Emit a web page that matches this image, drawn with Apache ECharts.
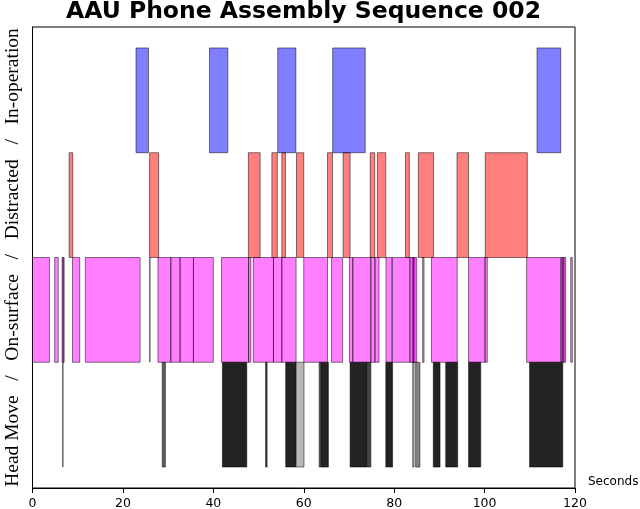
<!DOCTYPE html>
<html>
<head>
<meta charset="utf-8">
<script src="https://cdn.jsdelivr.net/npm/echarts@6/dist/echarts.min.js"></script>
<style>
  html, body { margin: 0; padding: 0; background: #fff; }
  #chart { width: 640px; height: 509px; }
</style>
</head>
<body>
<div id="chart"></div>
<script>
// intervals in seconds: [start, end]
var inOperation = [[22.9, 25.65], [39.15, 43.2], [54.25, 58.25], [66.4, 73.6], [111.6, 116.85]]
var distracted = [[8.1, 8.9], [25.9, 27.9], [47.75, 50.35], [52.95, 54.15], [55.15, 55.95], [58.4, 60.0],
  [65.25, 66.35], [68.7, 70.25], [74.7, 75.7], [76.3, 78.15], [82.5, 83.35], [85.35, 88.7],
  [93.9, 96.45], [100.15, 109.45]]
var onSurface = [[0, 3.75], [4.9, 5.7], [6.55, 6.8], [6.75, 7.0], [8.85, 10.45], [11.7, 23.8],
  [25.95, 25.97], [27.75, 30.6], [30.6, 32.65], [32.65, 35.6], [35.6, 40.0], [41.8, 47.8],
  [47.8, 48.3], [48.85, 53.3], [53.3, 55.15], [55.15, 58.3], [60.0, 65.25], [66.15, 68.6],
  [70.1, 70.85], [70.85, 74.85], [74.85, 75.75], [75.75, 76.65], [78.2, 79.5], [79.6, 83.5],
  [83.5, 84.3], [84.0, 84.6], [84.3, 85.0], [86.3, 86.6], [88.25, 93.95], [96.45, 100.1],
  [100.1, 100.6], [109.3, 116.9], [116.9, 117.3], [117.2, 117.6], [117.5, 117.95], [119.05, 119.4]]
// head moves: [start, end, how many overlap there]
var headMove = [[6.7, 6.74, 1], [28.7, 29.4, 3], [42.0, 47.4, 6], [51.55, 51.9, 4], [56.0, 58.25, 6],
  [58.25, 60.05, 1], [63.4, 63.85, 3], [63.85, 65.45, 6], [70.25, 73.9, 6], [73.9, 74.85, 4],
  [78.15, 79.65, 6], [84.1, 84.4, 1], [84.75, 85.7, 2], [88.65, 90.15, 6], [91.4, 94.05, 6],
  [96.45, 99.15, 6], [109.95, 117.3, 6]]
var xTicks = [0, 20, 40, 60, 80, 100, 120]
var rowNames = ['Head Move', 'On-surface', 'Distracted', 'In-operation']

function bars(row, fill) {
  return function (params, api) {
    var p0 = api.coord([api.value(0), row + 1])
    var p1 = api.coord([api.value(1), row])
    var f = fill
    if (typeof fill === 'function') f = fill(api.value(2))
    return {
      type: 'rect',
      shape: { x: p0[0], y: p0[1], width: Math.max(p1[0] - p0[0], 0), height: p1[1] - p0[1] },
      style: { fill: f, stroke: 'rgba(0,0,0,0.5)', lineWidth: 1 }
    }
  }
}

function series(data, row, fill) {
  return {
    type: 'custom',
    renderItem: bars(row, fill),
    data: data,
    encode: { x: [0, 1] },
    clip: true,
    silent: true
  }
}

var chart = echarts.init(document.getElementById('chart'), null, { renderer: 'canvas' })
chart.setOption({
  animation: false,
  backgroundColor: '#fff',
  title: {
    text: 'AAU Phone Assembly Sequence 002',
    left: 303.5,
    textAlign: 'center',
    top: 0,
    padding: 0,
    textStyle: { fontFamily: 'DejaVu Sans', fontWeight: 'bold', fontSize: 23.5, color: '#000' }
  },
  grid: {
    left: 32.5, right: 65, top: 27, bottom: 21,
    containLabel: false,
    outerBoundsMode: 'none',
    show: true, borderColor: '#000', borderWidth: 1, backgroundColor: 'transparent'
  },
  xAxis: {
    type: 'value',
    min: xTicks[0],
    max: xTicks[xTicks.length - 1],
    interval: 20,
    name: 'Seconds',
    nameLocation: 'end',
    nameGap: 13,
    nameTextStyle: { fontFamily: 'DejaVu Sans', fontSize: 12, color: '#000', verticalAlign: 'bottom' },
    axisLine: { show: true, onZero: false, lineStyle: { color: '#000', width: 1 } },
    axisTick: { show: true, inside: false, length: 5, lineStyle: { color: '#000' } },
    axisLabel: { fontFamily: 'DejaVu Sans', fontSize: 12.5, color: '#000', margin: 9 },
    splitLine: { show: false }
  },
  yAxis: {
    type: 'value',
    min: -0.2,
    max: 4.2,
    name: rowNames.join('   /   '),
    nameLocation: 'middle',
    nameRotate: 90,
    nameGap: 10,
    nameTextStyle: { fontFamily: 'Liberation Serif', fontSize: 19.5, color: '#000' },
    axisLine: { show: true, onZero: false, lineStyle: { color: '#000' } },
    axisTick: { show: false },
    axisLabel: { show: false },
    splitLine: { show: false }
  },
  series: [
    series(headMove, 0, function (n) { return 'rgba(0,0,0,' + (1 - Math.pow(0.72, n)).toFixed(3) + ')' }),
    series(onSurface, 1, 'rgba(255,0,255,0.5)'),
    series(distracted, 2, 'rgba(255,0,0,0.5)'),
    series(inOperation, 3, 'rgba(0,0,255,0.5)')
  ]
})
</script>
</body>
</html>
